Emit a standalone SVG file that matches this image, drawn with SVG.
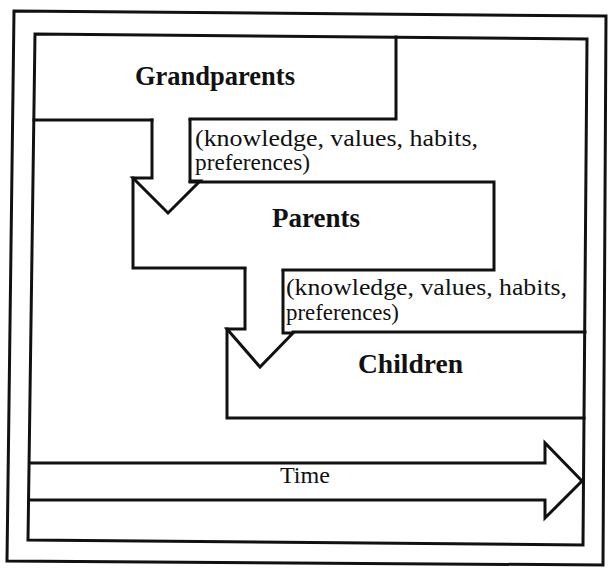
<svg xmlns="http://www.w3.org/2000/svg" width="611" height="573" viewBox="0 0 611 573">
<style>
.ln{fill:none;stroke:#111111;stroke-width:3;stroke-linejoin:miter;stroke-linecap:square}
.lbl{font-family:"Liberation Serif","Times New Roman",serif;font-weight:bold;font-size:27px;fill:#111111}
.sub{font-family:"Liberation Serif","Times New Roman",serif;font-size:23px;fill:#111111}
</style>
<rect width="611" height="573" fill="#ffffff"/>
<g id="frame">
<polygon class="ln" points="14,11 606,16 603,565 7,561"/>
<polygon class="ln" points="35,34 587,39 583,545 28,540"/>
</g>
<g id="grandparents">
<path class="ln" d="M34,120 H152 M190,119 H396 V37"/>
<text class="lbl" x="135" y="85" textLength="160" lengthAdjust="spacingAndGlyphs">Grandparents</text>
</g>
<g id="parents">
<path class="ln" d="M133,178 V268 H245 M283,270 H494 V182 H190"/>
<text class="lbl" x="272" y="227" textLength="88" lengthAdjust="spacingAndGlyphs">Parents</text>
</g>
<g id="children">
<path class="ln" d="M227,329 V418 H584 M293,332 H585"/>
<text class="lbl" x="358" y="373" textLength="105" lengthAdjust="spacingAndGlyphs">Children</text>
</g>
<g id="time">
<text class="sub" x="280" y="483" font-size="24" textLength="50" lengthAdjust="spacingAndGlyphs">Time</text>
</g>
<g id="connectors">
<path class="ln" d="M152,120 V178 H133 L168,213 L200,181 H190 V120"/>
<path class="ln" d="M245,269 V329 H227 L260,367 L293,333 H283 V271"/>
<path class="ln" d="M30,463 H545 V443 L582,481 L545,518 V500 H29"/>
<text class="sub" x="195" y="146" textLength="283" lengthAdjust="spacingAndGlyphs">(knowledge, values, habits,</text>
<text class="sub" x="195" y="170" textLength="115" lengthAdjust="spacingAndGlyphs">preferences)</text>
<text class="sub" x="286" y="295" textLength="281" lengthAdjust="spacingAndGlyphs">(knowledge, values, habits,</text>
<text class="sub" x="286" y="320" textLength="113" lengthAdjust="spacingAndGlyphs">preferences)</text>
</g>
</svg>
